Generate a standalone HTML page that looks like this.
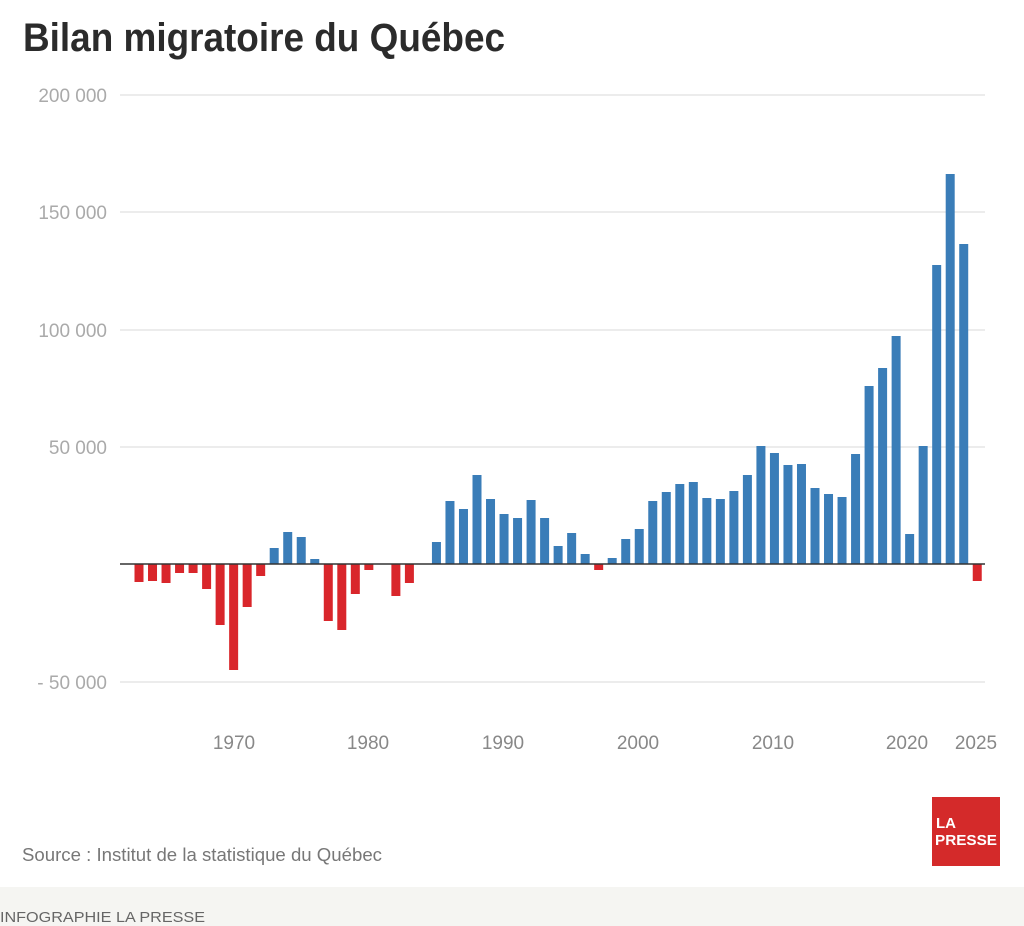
<!DOCTYPE html>
<html><head><meta charset="utf-8"><style>
html,body{margin:0;padding:0;background:#fff;}
svg{display:block;}
</style></head><body>
<svg width="1024" height="926" xmlns="http://www.w3.org/2000/svg" font-family="Liberation Sans, sans-serif">
<rect x="0" y="0" width="1024" height="926" fill="#fff"/>
<rect x="0" y="887" width="1024" height="39" fill="#f5f5f2"/>
<text x="23" y="51" font-size="40" font-weight="bold" fill="#2b2b2b" textLength="482" lengthAdjust="spacingAndGlyphs">Bilan migratoire du Québec</text>
<g stroke="#e6e6e6" stroke-width="1.5">
<line x1="120" y1="95" x2="985" y2="95"/>
<line x1="120" y1="212" x2="985" y2="212"/>
<line x1="120" y1="330" x2="985" y2="330"/>
<line x1="120" y1="447" x2="985" y2="447"/>
<line x1="120" y1="682" x2="985" y2="682"/>
</g>
<g font-size="19" fill="#aaa" text-anchor="end">
<text x="107" y="102">200 000</text>
<text x="107" y="219">150 000</text>
<text x="107" y="337">100 000</text>
<text x="107" y="454">50 000</text>
<text x="107" y="689">- 50 000</text>
</g>
<g fill="#d9262b">
<rect x="134.5" y="564" width="9" height="18"/>
<rect x="148.02" y="564" width="9" height="17"/>
<rect x="161.54" y="564" width="9" height="19"/>
<rect x="175.06" y="564" width="9" height="9"/>
<rect x="188.58" y="564" width="9" height="9"/>
<rect x="202.1" y="564" width="9" height="25"/>
<rect x="215.62" y="564" width="9" height="61"/>
<rect x="229.14" y="564" width="9" height="106"/>
<rect x="242.66" y="564" width="9" height="43"/>
<rect x="256.18" y="564" width="9" height="12"/>
<rect x="323.78" y="564" width="9" height="57"/>
<rect x="337.3" y="564" width="9" height="66"/>
<rect x="350.82" y="564" width="9" height="30"/>
<rect x="364.34" y="564" width="9" height="6"/>
<rect x="391.38" y="564" width="9" height="32"/>
<rect x="404.9" y="564" width="9" height="19"/>
<rect x="594.18" y="564" width="9" height="6"/>
<rect x="972.74" y="564" width="9" height="17"/>
</g>
<g fill="#3a7db8">
<rect x="269.7" y="548" width="9" height="16"/>
<rect x="283.22" y="532" width="9" height="32"/>
<rect x="296.74" y="537" width="9" height="27"/>
<rect x="310.26" y="559" width="9" height="5"/>
<rect x="431.94" y="542" width="9" height="22"/>
<rect x="445.46" y="501" width="9" height="63"/>
<rect x="458.98" y="509" width="9" height="55"/>
<rect x="472.5" y="475" width="9" height="89"/>
<rect x="486.02" y="499" width="9" height="65"/>
<rect x="499.54" y="514" width="9" height="50"/>
<rect x="513.06" y="518" width="9" height="46"/>
<rect x="526.58" y="500" width="9" height="64"/>
<rect x="540.1" y="518" width="9" height="46"/>
<rect x="553.62" y="546" width="9" height="18"/>
<rect x="567.14" y="533" width="9" height="31"/>
<rect x="580.66" y="554" width="9" height="10"/>
<rect x="607.7" y="558" width="9" height="6"/>
<rect x="621.22" y="539" width="9" height="25"/>
<rect x="634.74" y="529" width="9" height="35"/>
<rect x="648.26" y="501" width="9" height="63"/>
<rect x="661.78" y="492" width="9" height="72"/>
<rect x="675.3" y="484" width="9" height="80"/>
<rect x="688.82" y="482" width="9" height="82"/>
<rect x="702.34" y="498" width="9" height="66"/>
<rect x="715.86" y="499" width="9" height="65"/>
<rect x="729.38" y="491" width="9" height="73"/>
<rect x="742.9" y="475" width="9" height="89"/>
<rect x="756.42" y="446" width="9" height="118"/>
<rect x="769.94" y="453" width="9" height="111"/>
<rect x="783.46" y="465" width="9" height="99"/>
<rect x="796.98" y="464" width="9" height="100"/>
<rect x="810.5" y="488" width="9" height="76"/>
<rect x="824.02" y="494" width="9" height="70"/>
<rect x="837.54" y="497" width="9" height="67"/>
<rect x="851.06" y="454" width="9" height="110"/>
<rect x="864.58" y="386" width="9" height="178"/>
<rect x="878.1" y="368" width="9" height="196"/>
<rect x="891.62" y="336" width="9" height="228"/>
<rect x="905.14" y="534" width="9" height="30"/>
<rect x="918.66" y="446" width="9" height="118"/>
<rect x="932.18" y="265" width="9" height="299"/>
<rect x="945.7" y="174" width="9" height="390"/>
<rect x="959.22" y="244" width="9" height="320"/>
</g>
<line x1="120" y1="564" x2="985" y2="564" stroke="#333" stroke-width="1.5"/>
<g font-size="19" fill="#888" text-anchor="middle">
<text x="234" y="749">1970</text>
<text x="368" y="749">1980</text>
<text x="503" y="749">1990</text>
<text x="638" y="749">2000</text>
<text x="773" y="749">2010</text>
<text x="907" y="749">2020</text>
<text x="976" y="749">2025</text>
</g>
<text x="22" y="861" font-size="18" fill="#777" textLength="360" lengthAdjust="spacingAndGlyphs">Source : Institut de la statistique du Québec</text>
<rect x="932" y="797" width="68" height="69" fill="#d42a2a"/>
<text x="936" y="828" font-size="15" font-weight="bold" fill="#fff">LA</text>
<text x="935" y="845" font-size="15" font-weight="bold" fill="#fff" textLength="62" lengthAdjust="spacingAndGlyphs">PRESSE</text>
<text x="0" y="922" font-size="15" fill="#666" textLength="205" lengthAdjust="spacingAndGlyphs">INFOGRAPHIE LA PRESSE</text>
</svg>
</body></html>
